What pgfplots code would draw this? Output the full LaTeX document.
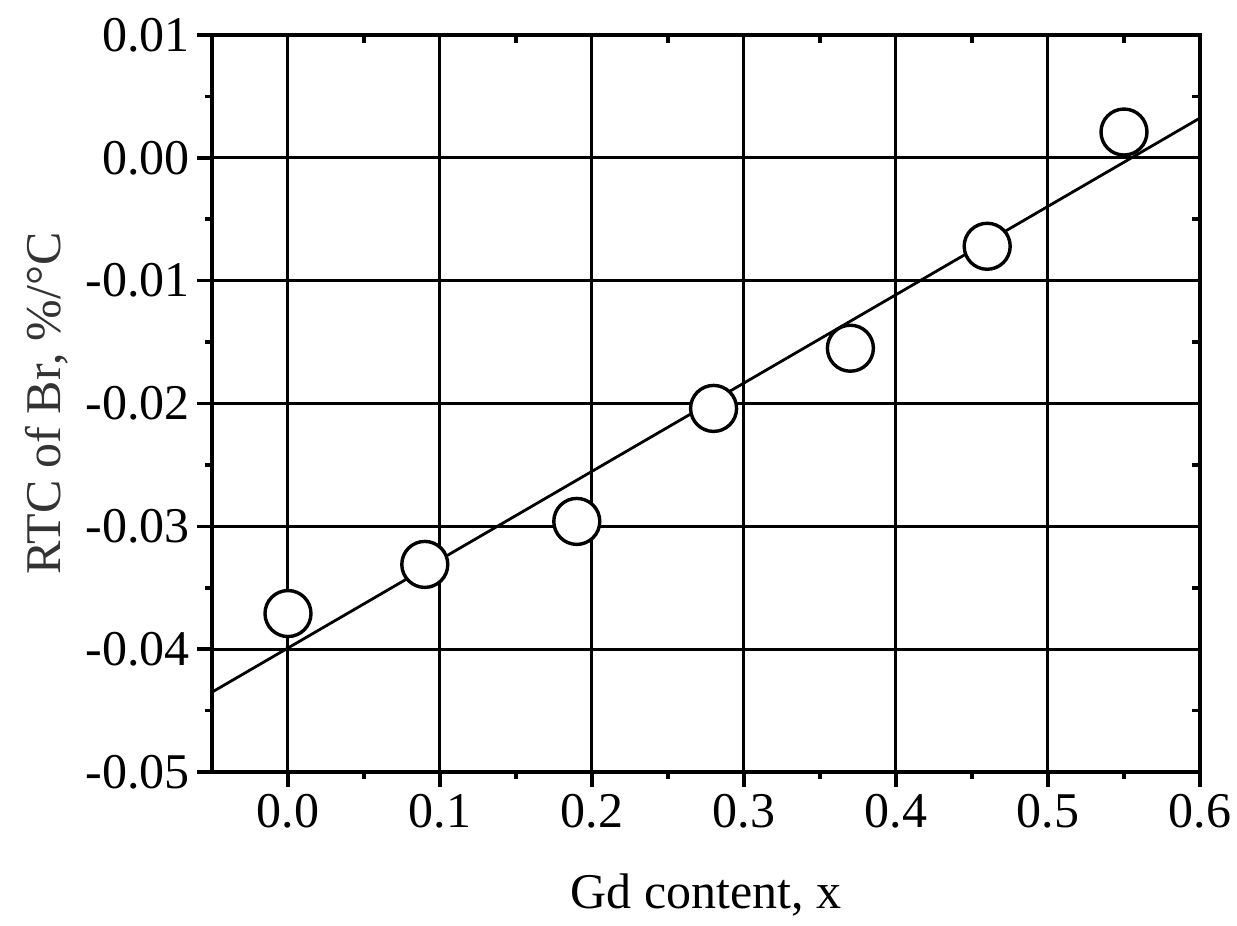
\documentclass[border=0pt]{standalone}
\usepackage{pgfplots}
\pgfplotsset{compat=1.18}
\usepackage{fontspec}
\setmainfont{Liberation Serif}

% RTC of Br versus Gd content
\pgfplotstableread{
x      y
0.00  -0.0371
0.09  -0.0331
0.19  -0.0296
0.28  -0.0204
0.37  -0.0155
0.46  -0.0072
0.55   0.0021
}\rtcdata

\pgfplotstableread{
x      y
-0.05 -0.0435
0.60   0.00324
}\fitline

\begin{document}
\begin{tikzpicture}
\pgfplotsset{
  common/.style={
    scale only axis,
    width=494pt, height=368.5pt,
    xmin=-0.05, xmax=0.6,
    ymin=-0.05, ymax=0.01,
    xtick={0,0.1,...,0.61},
    ytick={-0.05,-0.04,...,0.011},
    minor x tick num=1,
    minor y tick num=1,
    scaled ticks=false,
  },
}
\begin{axis}[
  common,
  name=main,
  axis line style={line width=2pt},
  grid=major,
  major grid style={line width=1.5pt, black},
  tick align=outside,
  xtick pos=left, ytick pos=left,
  major tick length=7.5pt,
  minor tick length=3.5pt,
  every tick/.style={black, line width=1.8pt},
  /pgf/number format/assume math mode=true,
  tick label style={font=\fontsize{25}{28}\selectfont},
  xticklabel style={/pgf/number format/fixed, /pgf/number format/fixed zerofill, /pgf/number format/precision=1},
  yticklabel style={/pgf/number format/fixed, /pgf/number format/fixed zerofill, /pgf/number format/precision=2},
  xlabel={Gd content, x},
  ylabel={RTC of Br, \%/°C},
  label style={font=\fontsize{25}{28}\selectfont},
  xlabel style={yshift=-16pt},
  ylabel style={yshift=2pt, text=black!80},
  clip=false,
]
\addplot[black, line width=1.4pt] table[x=x, y=y] {\fitline};
\addplot[only marks, mark=*, mark size=11.5pt,
  mark options={fill=white, draw=black, line width=1.7pt}]
  table[x=x, y=y] {\rtcdata};
\end{axis}
% inward minor ticks along the top and right edges
\begin{axis}[
  common,
  axis line style={draw=none},
  tick align=inside,
  xtick pos=right, ytick pos=right,
  major tick length=0pt,
  minor tick length=4pt,
  every tick/.style={black, line width=1.8pt},
  xticklabels={}, yticklabels={},
]
\end{axis}
\pgfresetboundingbox
\path[use as bounding box]
  ([shift={(-106pt,-77pt)}]main.south west) rectangle
  ([shift={(18.5pt,17.5pt)}]main.north east);
\end{tikzpicture}
\end{document}
